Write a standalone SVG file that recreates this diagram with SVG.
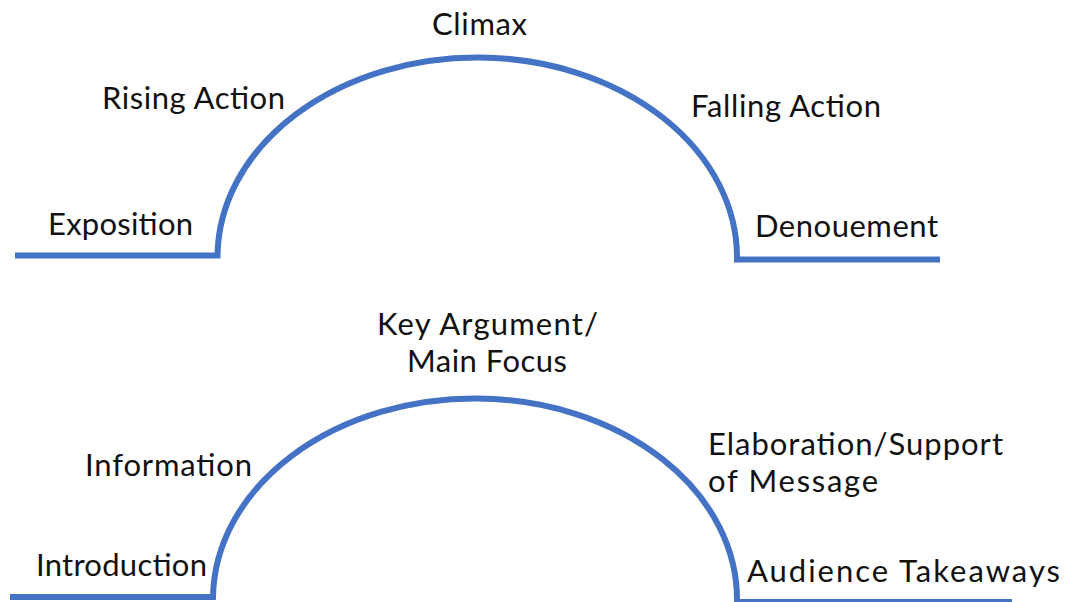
<svg xmlns="http://www.w3.org/2000/svg" width="1068" height="602" viewBox="0 0 1068 602">
<style>
.arc{fill:none;stroke:#4472C4;stroke-width:6;stroke-linejoin:miter;stroke-linecap:butt}
.lbl{font-family:Lato,"Liberation Sans",sans-serif;font-size:31px;fill:#111}
</style>
<rect width="1068" height="602" fill="#fff"/>
<g id="connectors">
<path id="arc-story" class="arc" d="M15,255.5 H217.5 A259.75,200 0 0 1 737,259.5 H940"/>
<path id="arc-talk" class="arc" d="M10,597 H213 A262,201 0 0 1 737,602 H1012"/>
</g>
<g id="exposition"><text class="lbl" x="48" y="235" textLength="145">Exposition</text></g>
<g id="rising-action"><text class="lbl" x="102" y="109" textLength="183">Rising Action</text></g>
<g id="climax"><text class="lbl" x="432" y="35" textLength="95">Climax</text></g>
<g id="falling-action"><text class="lbl" x="691" y="117" textLength="190">Falling Action</text></g>
<g id="denouement"><text class="lbl" x="755" y="237" textLength="183">Denouement</text></g>
<g id="introduction"><text class="lbl" x="36" y="576" textLength="171">Introduction</text></g>
<g id="information"><text class="lbl" x="85" y="476" textLength="167">Information</text></g>
<g id="key-argument"><text class="lbl" x="377" y="335" textLength="221">Key Argument/</text><text class="lbl" x="407" y="372" textLength="160">Main Focus</text></g>
<g id="elaboration"><text class="lbl" x="708" y="455" textLength="295">Elaboration/Support</text><text class="lbl" x="708" y="492" textLength="170">of Message</text></g>
<g id="audience-takeaways"><text class="lbl" x="747" y="582" textLength="313">Audience Takeaways</text></g>
</svg>
